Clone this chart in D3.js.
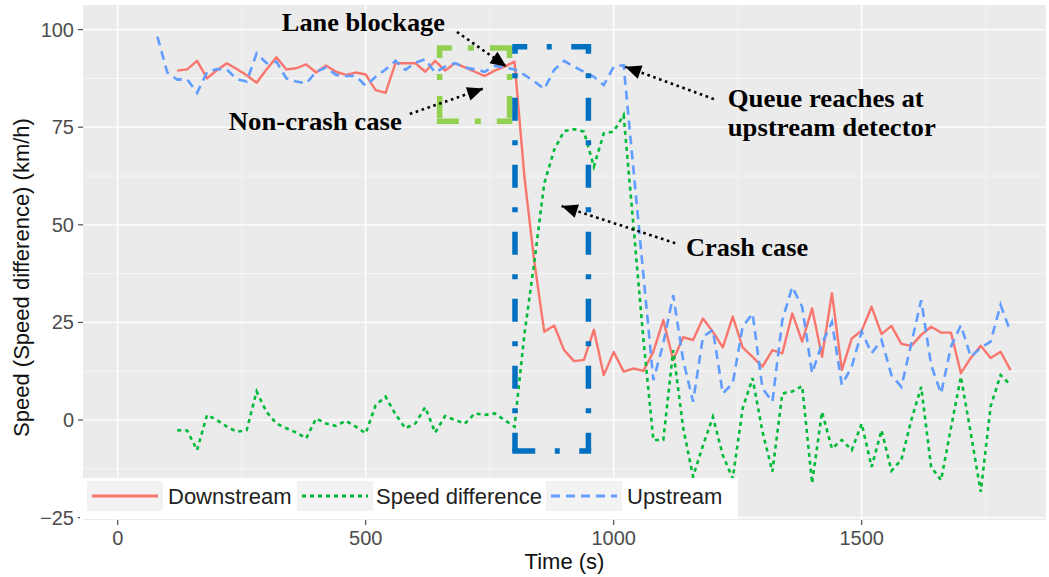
<!DOCTYPE html>
<html>
<head>
<meta charset="utf-8">
<script src="https://cdn.jsdelivr.net/npm/d3@7"></script>
<style>
  html, body { margin: 0; padding: 0; background: #ffffff; }
  svg { display: block; }
</style>
</head>
<body>
<svg id="chart" width="1049" height="577"></svg>
<script>
// ---------------- DATA ----------------
const seriesNames = ["Downstream", "Speed difference", "Upstream"];
const stepSeconds = 20;
const downstreamStart = 120;
const upstreamStart = 80;
const diffStart = 120;

const downstream = [
  89.5, 89.8, 92.0, 87.5, 89.6, 91.4, 89.9, 88.3, 86.4, 89.8,
  92.9, 89.8, 90.1, 91.1, 89.0, 90.8, 89.2, 88.4, 89.0, 88.5,
  84.5, 83.8, 91.4, 91.4, 91.4, 89.2, 92.0, 89.5, 91.4, 90.3,
  89.2, 88.1, 89.5, 90.5, 91.8, 62.3, 40.5, 22.6, 24.2, 17.9,
  15.1, 15.4, 23.1, 11.5, 17.4, 12.4, 13.2, 12.6, 17.5, 25.6,
  15.4, 21.2, 20.5, 26.0, 22.6, 18.6, 26.5, 18.6, 16.2, 13.7,
  17.9, 17.1, 27.3, 20.1, 28.6, 16.2, 32.5, 12.8, 20.9, 22.9,
  29.0, 22.0, 24.1, 19.5, 19.0, 21.8, 23.9, 22.4, 22.4, 12.0,
  15.9, 19.0, 15.9, 17.5, 12.8
];

const upstream = [
  98.2, 89.0, 87.2, 87.3, 83.8, 89.1, 89.9, 89.8, 87.3, 86.7,
  93.9, 91.4, 91.8, 87.5, 86.7, 86.2, 89.2, 90.3, 88.4, 88.1,
  88.1, 85.6, 87.9, 89.8, 92.0, 89.7, 91.5, 92.4, 89.0, 90.5,
  91.4, 90.3, 89.8, 89.2, 90.7, 90.3, 89.8, 88.4, 86.7, 84.8,
  89.7, 92.0, 90.5, 89.2, 87.9, 85.8, 90.5, 90.9, 64.0, 37.0,
  10.2, 19.6, 32.0, 15.4, 4.7, 21.3, 23.1, 6.8, 9.4, 23.9,
  27.3, 8.1, 4.7, 25.6, 34.1, 29.0, 12.0, 19.6, 25.1, 9.0,
  13.7, 22.6, 17.1, 20.5, 11.5, 8.5, 19.6, 30.7, 14.1, 6.8,
  18.8, 24.3, 16.2, 18.5, 20.1, 29.5, 22.6
];

const speedDiff = [
  -2.6, -2.7, -7.7, 1.3, 0.0, -1.7, -3.0, -2.6, 7.3, 2.1,
  -0.9, -2.1, -3.2, -4.7, 0.4, -0.9, -1.5, -0.2, -1.7, -3.4,
  3.8, 6.0, 1.5, -2.1, -0.9, 3.3, -3.2, 1.0, 0.0, -0.9,
  1.7, 1.3, 1.7, 0.0, -1.7, 22.0, 40.5, 60.6, 69.2, 74.0,
  74.5, 73.9, 64.9, 73.4, 73.9, 78.1, 49.5, 20.5, -5.1, -5.1,
  17.9, -2.0, -14.5, -6.5, 0.8, -9.0, -15.0, 3.0, 10.7, -3.0,
  -13.2, 6.8, 7.3, 8.7, -16.2, 2.1, -7.3, -5.1, -7.7, -0.9,
  -12.0, -2.6, -13.0, -10.2, 0.0, 8.5, -12.0, -15.4, -2.0, 11.1,
  -3.4, -18.4, 3.5, 11.5, 9.0
];

const xTicks = [0, 500, 1000, 1500];
const xMinorTicks = [250, 750, 1250, 1750];
const yTicks = [-25, 0, 25, 50, 75, 100];
const yMinorTicks = [-12.5, 12.5, 37.5, 62.5, 87.5];
const xTitle = "Time (s)";
const yTitle = "Speed (Speed difference) (km/h)";

// annotation texts (data units: time, value at baseline)
const annoTexts = [
  { text: "Lane blockage", t: 331, v: 99.6, w: 163 },
  { text: "Non-crash case", t: 224, v: 74.3, w: 173 },
  { text: "Queue reaches at", t: 1230, v: 80.3, w: 196 },
  { text: "upstream detector", t: 1230, v: 72.8, w: 208 },
  { text: "Crash case", t: 1146, v: 42.0, w: 122 }
];
// arrows: tail (t0,v0) -> tip (t1,v1)
const annoArrows = [
  { t0: 684, v0: 99.4, t1: 784, v1: 90.5 },
  { t0: 589, v0: 78.4, t1: 737, v1: 84.9 },
  { t0: 1202, v0: 82.2, t1: 1023, v1: 90.5 },
  { t0: 1124, v0: 45.3, t1: 895, v1: 54.8 }
];
// highlight boxes (data units)
const boxes = [
  { t0: 649, t1: 790, v0: 76.5, v1: 95.3, color: "#92d050", width: 5.5, dash: "22 16 6 16" },
  { t0: 801, t1: 949, v0: -7.9, v1: 95.6, color: "#0070c0", width: 5.5, dash: "23 19.5 5 19.5" }
];

// ---------------- LAYOUT ----------------
const W = 1049, H = 577;
const panel = { left: 83, right: 1046, top: 5, bottom: 520 };

const x = d3.scaleLinear().domain([-70, 1871.6]).range([panel.left, panel.right]);
const y = d3.scaleLinear().domain([-25.6, 106.3]).range([panel.bottom, panel.top]);

const colors = { down: "#F8766D", diff: "#00BA38", up: "#619CFF" };

const svg = d3.select("#chart");
svg.append("rect").attr("width", W).attr("height", H).attr("fill", "#ffffff");

const defs = svg.append("defs");
defs.append("clipPath").attr("id", "clip")
  .append("rect")
  .attr("x", panel.left).attr("y", panel.top)
  .attr("width", panel.right - panel.left).attr("height", panel.bottom - panel.top);

defs.append("marker")
  .attr("id", "arrowhead")
  .attr("markerUnits", "userSpaceOnUse")
  .attr("markerWidth", 20).attr("markerHeight", 20)
  .attr("viewBox", "0 0 20 20")
  .attr("refX", 18).attr("refY", 10)
  .attr("orient", "auto")
  .append("path")
  .attr("d", "M2,3 L18,10 L2,17 Z")
  .attr("fill", "#000");

// panel background
svg.append("rect")
  .attr("x", panel.left).attr("y", panel.top)
  .attr("width", panel.right - panel.left).attr("height", panel.bottom - panel.top)
  .attr("fill", "#ebebeb");

const grid = svg.append("g").attr("clip-path", "url(#clip)");
grid.selectAll(".ymin").data(yMinorTicks).enter().append("line")
  .attr("x1", panel.left).attr("x2", panel.right)
  .attr("y1", d => y(d)).attr("y2", d => y(d))
  .attr("stroke", "#ffffff").attr("stroke-width", 0.6);
grid.selectAll(".xmin").data(xMinorTicks).enter().append("line")
  .attr("y1", panel.top).attr("y2", panel.bottom)
  .attr("x1", d => x(d)).attr("x2", d => x(d))
  .attr("stroke", "#ffffff").attr("stroke-width", 0.6);
grid.selectAll(".ymaj").data(yTicks).enter().append("line")
  .attr("x1", panel.left).attr("x2", panel.right)
  .attr("y1", d => y(d)).attr("y2", d => y(d))
  .attr("stroke", "#ffffff").attr("stroke-width", 1.3);
grid.selectAll(".xmaj").data(xTicks).enter().append("line")
  .attr("y1", panel.top).attr("y2", panel.bottom)
  .attr("x1", d => x(d)).attr("x2", d => x(d))
  .attr("stroke", "#ffffff").attr("stroke-width", 1.3);

// ---------------- SERIES ----------------
function toPoints(values, start) {
  return values.map((v, i) => ({ t: start + i * stepSeconds, v: v }));
}
const line = d3.line().x(d => x(d.t)).y(d => y(d.v));
const plot = svg.append("g").attr("clip-path", "url(#clip)");

plot.append("path").datum(toPoints(downstream, downstreamStart))
  .attr("d", line).attr("fill", "none")
  .attr("stroke", colors.down).attr("stroke-width", 2.4)
  .attr("stroke-linejoin", "round");
plot.append("path").datum(toPoints(speedDiff, diffStart))
  .attr("d", line).attr("fill", "none")
  .attr("stroke", colors.diff).attr("stroke-width", 2.6)
  .attr("stroke-dasharray", "4 4");
plot.append("path").datum(toPoints(upstream, upstreamStart))
  .attr("d", line).attr("fill", "none")
  .attr("stroke", colors.up).attr("stroke-width", 2.6)
  .attr("stroke-dasharray", "9 6");

// ---------------- BOXES ----------------
function dashEdge(g, x1, y1, x2, y2, b, offset) {
  g.append("line")
    .attr("x1", x1).attr("y1", y1).attr("x2", x2).attr("y2", y2)
    .attr("stroke", b.color).attr("stroke-width", b.width)
    .attr("stroke-dasharray", b.dash).attr("stroke-dashoffset", offset)
    .attr("stroke-linecap", "butt");
}
const boxG = svg.append("g");
{
  const b = boxes[0];
  const L = x(b.t0), R = x(b.t1), T = y(b.v1), B = y(b.v0);
  dashEdge(boxG, L - b.width / 2, T, R + b.width / 2, T, b, 7);
  dashEdge(boxG, L - b.width / 2, B, R + b.width / 2, B, b, 0);
  dashEdge(boxG, L, T, L, B, b, 12);
  dashEdge(boxG, R, T, R, B, b, 12);
}
{
  const b = boxes[1];
  const L = x(b.t0), R = x(b.t1), T = y(b.v1), B = y(b.v0);
  dashEdge(boxG, L - b.width / 2, T, R + b.width / 2, T, b, 8);
  dashEdge(boxG, L - b.width / 2, B, R + b.width / 2, B, b, 0);
  dashEdge(boxG, L, T, L, B, b, 16);
  dashEdge(boxG, R, T, R, B, b, 16);
}

// ---------------- ANNOTATIONS ----------------
const annoG = svg.append("g");
annoArrows.forEach(a => {
  annoG.append("line")
    .attr("x1", x(a.t0)).attr("y1", y(a.v0))
    .attr("x2", x(a.t1)).attr("y2", y(a.v1))
    .attr("stroke", "#000").attr("stroke-width", 2.6)
    .attr("stroke-dasharray", "2.6 3.6")
    .attr("marker-end", "url(#arrowhead)");
});
annoTexts.forEach(a => {
  annoG.append("text")
    .attr("x", x(a.t)).attr("y", y(a.v))
    .attr("font-family", "'Liberation Serif', 'Times New Roman', serif")
    .attr("font-weight", "bold")
    .attr("font-size", 25)
    .attr("textLength", a.w)
    .attr("lengthAdjust", "spacingAndGlyphs")
    .attr("fill", "#000")
    .text(a.text);
});

// ---------------- AXES ----------------
const axisFont = "'Liberation Sans', Arial, sans-serif";
const axG = svg.append("g");
axG.selectAll(".yt").data(yTicks).enter().append("line")
  .attr("x1", panel.left - 5).attr("x2", panel.left)
  .attr("y1", d => y(d)).attr("y2", d => y(d))
  .attr("stroke", "#4d4d4d").attr("stroke-width", 1.2);
axG.selectAll(".yl").data(yTicks).enter().append("text")
  .attr("x", panel.left - 9).attr("y", d => y(d))
  .attr("dy", "0.35em")
  .attr("text-anchor", "end")
  .attr("font-family", axisFont).attr("font-size", 20)
  .attr("fill", "#4d4d4d")
  .text(d => d < 0 ? "\u2212" + Math.abs(d) : d);
axG.selectAll(".xt").data(xTicks).enter().append("line")
  .attr("y1", panel.bottom).attr("y2", panel.bottom + 5)
  .attr("x1", d => x(d)).attr("x2", d => x(d))
  .attr("stroke", "#4d4d4d").attr("stroke-width", 1.2);
axG.selectAll(".xl").data(xTicks).enter().append("text")
  .attr("x", d => x(d)).attr("y", panel.bottom + 25)
  .attr("text-anchor", "middle")
  .attr("font-family", axisFont).attr("font-size", 20)
  .attr("fill", "#4d4d4d")
  .text(d => d);

axG.append("text")
  .attr("x", (panel.left + panel.right) / 2).attr("y", 569)
  .attr("text-anchor", "middle")
  .attr("font-family", axisFont).attr("font-size", 22)
  .attr("fill", "#111")
  .text(xTitle);
axG.append("text")
  .attr("transform", `translate(29, ${(panel.top + panel.bottom) / 2 + 15}) rotate(-90)`)
  .attr("text-anchor", "middle")
  .attr("font-family", axisFont).attr("font-size", 22)
  .attr("fill", "#111")
  .text(yTitle);

// ---------------- LEGEND ----------------
const legend = svg.append("g");
legend.append("rect")
  .attr("x", 80).attr("y", 478).attr("width", 658).attr("height", 41)
  .attr("fill", "#ffffff");
const legendItems = [
  { name: seriesNames[0], color: colors.down, dash: null, kx: 87, tx: 168 },
  { name: seriesNames[1], color: colors.diff, dash: "4 4", kx: 297, tx: 376 },
  { name: seriesNames[2], color: colors.up, dash: "9 6", kx: 546, tx: 627 }
];
legendItems.forEach(it => {
  legend.append("rect")
    .attr("x", it.kx).attr("y", 481).attr("width", 76).attr("height", 30)
    .attr("fill", "#f2f2f2");
  const l = legend.append("line")
    .attr("x1", it.kx + 5).attr("x2", it.kx + 71)
    .attr("y1", 496).attr("y2", 496)
    .attr("stroke", it.color).attr("stroke-width", 2.8);
  if (it.dash) l.attr("stroke-dasharray", it.dash);
  legend.append("text")
    .attr("x", it.tx).attr("y", 504)
    .attr("font-family", axisFont).attr("font-size", 22)
    .attr("fill", "#222")
    .text(it.name);
});
</script>
</body>
</html>
